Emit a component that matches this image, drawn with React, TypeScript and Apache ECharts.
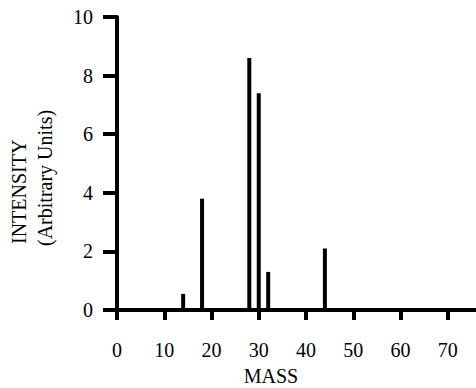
import React, { useEffect, useRef } from "react";
import * as echarts from "echarts";

const masses = [14, 18, 28, 30, 32, 44];
const intensities = [0.55, 3.8, 8.6, 7.4, 1.3, 2.1];
const xTitle = "MASS";
const yTitleLines = ["INTENSITY", "(Arbitrary Units)"];

const FONT = "Liberation Serif";

export default function App() {
  const ref = useRef<HTMLDivElement>(null);
  useEffect(() => {
    if (!ref.current) return;
    const chart = echarts.init(ref.current, undefined, { renderer: "svg" });
    chart.setOption({
      animation: false,
      backgroundColor: "#fff",
      textStyle: { fontFamily: FONT },
      grid: { left: 117, right: -19, top: 17, bottom: 78, containLabel: false, outerBoundsMode: "none" },
      xAxis: {
        type: "value",
        min: 0,
        max: 80,
        interval: 10,
        axisLine: { onZero: false, lineStyle: { color: "#000", width: 4 } },
        axisTick: { show: true, inside: false, length: 10, lineStyle: { color: "#000", width: 4 } },
        axisLabel: {
          fontFamily: FONT,
          fontSize: 20,
          color: "#000",
          margin: 30,
          formatter: (v: number) => (v <= 70 ? String(v) : ""),
        },
        splitLine: { show: false },
      },
      yAxis: {
        type: "value",
        min: 0,
        max: 10,
        interval: 2,
        axisLine: { show: true, lineStyle: { color: "#000", width: 4 } },
        axisTick: { show: true, inside: false, length: 14, lineStyle: { color: "#000", width: 4 } },
        axisLabel: { fontFamily: FONT, fontSize: 20, color: "#000", margin: 24 },
        splitLine: { show: false },
      },
      series: [
        {
          type: "bar",
          barWidth: 4,
          itemStyle: { color: "#000" },
          data: masses.map((m, i) => [m, intensities[i]]),
        },
      ],
      graphic: [
        {
          type: "text",
          x: 19,
          y: 244,
          rotation: Math.PI / 2,
          style: { text: yTitleLines[0], fontFamily: FONT, fontSize: 20, fill: "#000", align: "left", verticalAlign: "middle" },
        },
        {
          type: "text",
          x: 45,
          y: 246,
          rotation: Math.PI / 2,
          style: { text: yTitleLines[1], fontFamily: FONT, fontSize: 20, fill: "#000", align: "left", verticalAlign: "middle" },
        },
        {
          type: "text",
          x: 271,
          y: 376,
          style: { text: xTitle, fontFamily: FONT, fontSize: 20, fill: "#000", align: "center", verticalAlign: "middle" },
        },
      ],
    });
    return () => chart.dispose();
  }, []);
  return (
    <div
      ref={ref}
      style={{ position: "fixed", left: 0, top: 0, width: 476, height: 388, overflow: "hidden", background: "#fff" }}
    />
  );
}
